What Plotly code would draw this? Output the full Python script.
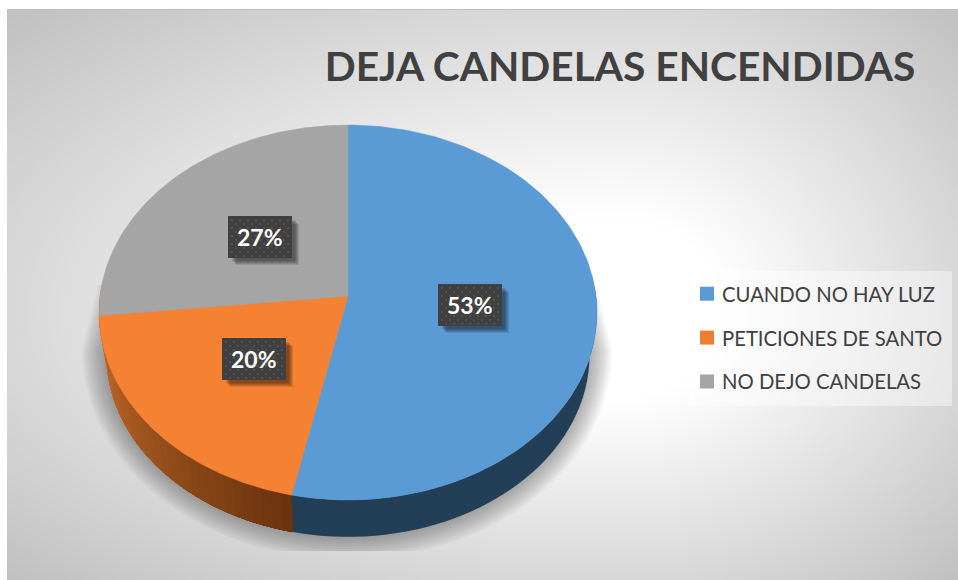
import numpy as np
import plotly.graph_objects as go

# ---- data ----
categories = ["CUANDO NO HAY LUZ", "PETICIONES DE SANTO", "NO DEJO CANDELAS"]
values = [8, 3, 4]
pct_labels = ["53%", "20%", "27%"]
title_text = "DEJA CANDELAS ENCENDIDAS"

# ---- style / layout ----
face_colors = ["#5B9BD5", "#F58233", "#A5A5A5"]
legend_colors = ["#5B9BD5", "#ED7D31", "#A5A5A5"]
W, H = 958, 580
CX, AY = 348.0, 296.0        # apex of the pie in plot coordinates
RX, RY, K = 248.0, 186.0, 0.088   # perspective pie
DEPTH, SHRINK = 43.0, 0.97
label_centres = [(470, 305), (254, 359), (260, 237)]
LABEL_W, LABEL_H = 64, 42
FONT = "Lato, Carlito, Calibri, sans-serif"


def rim(theta, s=1.0, d=0.0):
    """Project clockwise-from-top angle onto the tilted disc."""
    X, Y = np.sin(theta), np.cos(theta)
    w = 1 + K * Y
    return CX + s * RX * X / w, AY + d - s * RY * Y / w


fig = go.Figure()

# background gradient
nx, ny = 120, 80
hx, hy = (W - 7) / (2 * nx), (H - 9) / (2 * ny)
gx = np.linspace(7 + hx, W - hx, nx)
gy = np.linspace(9 + hy, H - hy, ny)
GX, GY = np.meshgrid(gx, gy)
c0x, c0y = 615.0, 315.0
tx = np.where(GX > c0x, (GX - c0x) / (W - c0x), (c0x - GX) / (c0x - 7))
ty = np.where(GY > c0y, (GY - c0y) / (H - c0y), (c0y - GY) / (c0y - 9))
r = np.sqrt(tx ** 2 + ty ** 2) / np.sqrt(2)
fig.add_trace(go.Heatmap(
    x=gx, y=gy, z=np.clip((r - 0.22) / 0.78, 0, 1), zmin=0, zmax=1, zsmooth="best",
    colorscale=[[0, "#FFFFFF"], [1, "#C0C0C0"]], showscale=False, hoverinfo="skip"))

# soft shadow under the pie: lower half-ellipses with straight flanks rising behind the disc
t = np.linspace(0, np.pi, 120)
for g in np.linspace(22, 0, 12):
    srx, sry = 243 + g, 187 + g
    sx = 347 + srx * np.cos(t)
    sy = np.minimum(350 + sry * np.sin(t), 551)
    sx = np.concatenate([[347 + srx - 16], sx, [347 - srx + 16]])
    sy = np.concatenate([[285], sy, [285]])
    fig.add_trace(go.Scatter(x=sx, y=sy, fill="toself", mode="none",
                             fillcolor="rgba(60,60,60,0.04)",
                             hoverinfo="skip", showlegend=False))

# wedge angles from the data
fractions = np.array(values, dtype=float) / sum(values)
edges = np.concatenate([[0], np.cumsum(fractions)]) * 2 * np.pi


def wall(a, b, color):
    th = np.linspace(a, b, 48)
    x1, y1 = rim(th)
    x2, y2 = rim(th, SHRINK, DEPTH)
    fig.add_trace(go.Scatter(
        x=np.concatenate([x1, x2[::-1]]), y=np.concatenate([y1, y2[::-1]]),
        fill="toself", mode="none", fillcolor=color, hoverinfo="skip", showlegend=False))


# orange side wall, dark towards the joint (later slices overpaint earlier ones)
n = 36
c_a, c_b = np.array([205, 112, 44]), np.array([106, 52, 16])
wall_start = 3 * np.pi / 2 + 0.05
wall_edges = np.linspace(wall_start, edges[1], n + 1)
for i in range(n):
    c = (c_a + (c_b - c_a) * (i / (n - 1)) ** 1.1).astype(int)
    wall(wall_edges[i], edges[1], f"rgb({c[0]},{c[1]},{c[2]})")
# blue side wall
wall(np.pi / 2 - 0.05, edges[1], "#233F58")

# top faces
for i, name in enumerate(categories):
    th = np.linspace(edges[i], edges[i + 1], 160)
    x, y = rim(th)
    fig.add_trace(go.Scatter(
        x=np.concatenate([[CX], x, [CX]]), y=np.concatenate([[AY], y, [AY]]),
        fill="toself", mode="lines", line=dict(color=face_colors[i], width=0.5),
        fillcolor=face_colors[i], name=name, hoverinfo="skip", showlegend=False))

# legend panel and the frame's top hairline
shapes = [
    dict(type="rect", x0=689, x1=952, y0=271, y1=406, layer="above", xref="x", yref="y",
         fillcolor="rgba(255,255,255,0.42)", line_width=0),
    dict(type="line", x0=7, x1=W, y0=9.5, y1=9.5, layer="above", xref="x", yref="y",
         line=dict(color="#BDBDBD", width=1)),
]

# legend entries
for name, col in zip(categories, legend_colors):
    fig.add_trace(go.Scatter(x=[None], y=[None], mode="markers", name=name, legendgroup=name,
                             marker=dict(symbol="square", size=14, color=col), hoverinfo="skip"))

# data labels: shadow, box, dotted fill, text
annotations = []
dx, dy = [], []
for (lx, ly), txt in zip(label_centres, pct_labels):
    x0, x1 = lx - LABEL_W / 2, lx + LABEL_W / 2
    y0, y1 = ly - LABEL_H / 2, ly + LABEL_H / 2
    for g in range(5):
        fig.add_trace(go.Scatter(
            x=[x0 + 8 - g, x1 + 7 - g, x1 + 7 - g, x0 + 8 - g],
            y=[y0 + 8 - g, y0 + 8 - g, y1 + 7 - g, y1 + 7 - g],
            fill="toself", mode="none", fillcolor="rgba(0,0,0,0.11)",
            hoverinfo="skip", showlegend=False))
    fig.add_trace(go.Scatter(
        x=[x0, x1, x1, x0], y=[y0, y0, y1, y1], fill="toself", mode="none",
        fillcolor="#404040", hoverinfo="skip", showlegend=False))
    for row, yy in enumerate(np.arange(y0 + 4, y1, 4)):
        for xx in np.arange(x0 + 4 + (row % 2) * 4, x1, 8):
            dx.append(xx)
            dy.append(yy)
    annotations.append(dict(x=lx, y=ly, xref="x", yref="y", text=f"<b>{txt}</b>", showarrow=False,
                            font=dict(family=FONT, size=23, color="#FFFFFF")))
fig.add_trace(go.Scatter(x=dx, y=dy, mode="markers", hoverinfo="skip", showlegend=False,
                         marker=dict(symbol="square", size=1.6, color="#5E5E5E")))

fig.update_layout(
    width=W, height=H, margin=dict(l=0, r=0, t=0, b=0, pad=0),
    paper_bgcolor="#FFFFFF", plot_bgcolor="rgba(0,0,0,0)",
    xaxis=dict(range=[0, W], visible=False, fixedrange=True),
    yaxis=dict(range=[H, 0], visible=False, fixedrange=True),
    title=dict(text=f"<b>{title_text}</b>", x=620 / W, xanchor="center", y=1 - 67 / H, yanchor="middle",
               font=dict(family=FONT, size=40.7, color="#404040")),
    legend=dict(x=682 / W, y=1 - 274 / H, xanchor="left", yanchor="top", bgcolor="rgba(0,0,0,0)",
                font=dict(family=FONT, size=20.3, color="#404040"), tracegroupgap=14.5,
                itemclick=False, itemdoubleclick=False),
    shapes=shapes, annotations=annotations, hovermode=False,
)

fig.write_html("out.html", config=dict(displayModeBar=False),
               post_script="document.body.style.margin='0';"
                           "document.querySelectorAll('.legendsymbols').forEach(function(g){"
                           "g.setAttribute('transform','translate(5,0)');});")
